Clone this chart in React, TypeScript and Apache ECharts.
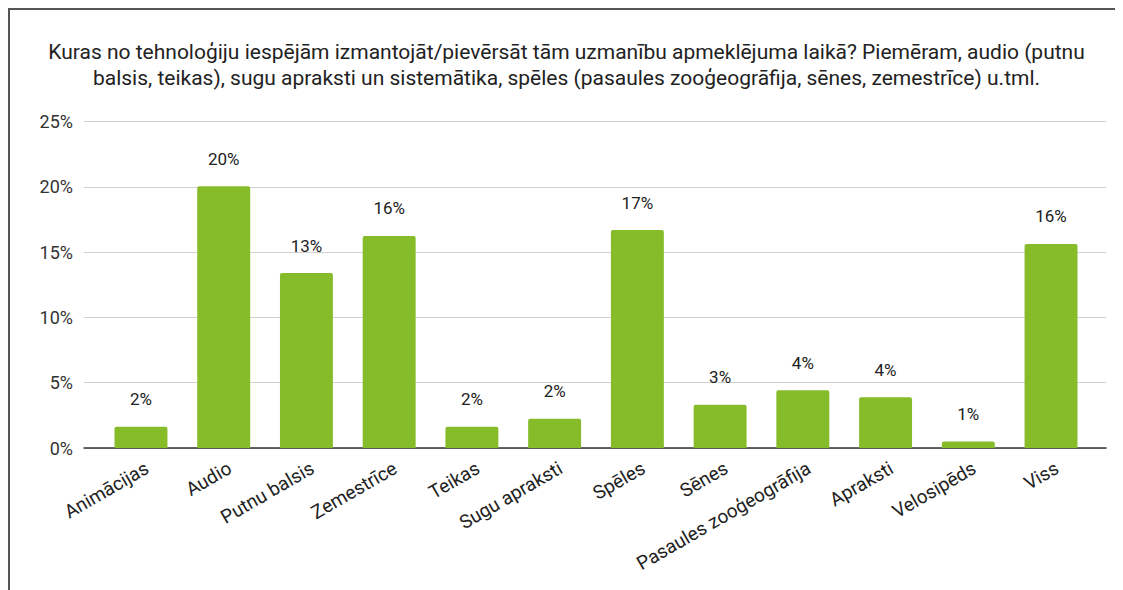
import React, { useEffect, useRef } from "react";
import * as echarts from "echarts";

const TITLE_LINES = [
  "Kuras no tehnoloģiju iespējām izmantojāt/pievērsāt tām uzmanību apmeklējuma laikā? Piemēram, audio (putnu",
  "balsis, teikas), sugu apraksti un sistemātika, spēles (pasaules zooģeogrāfija, sēnes, zemestrīce) u.tml.",
];

const categories = [
  "Animācijas",
  "Audio",
  "Putnu balsis",
  "Zemestrīce",
  "Teikas",
  "Sugu apraksti",
  "Spēles",
  "Sēnes",
  "Pasaules zooģeogrāfija",
  "Apraksti",
  "Velosipēds",
  "Viss",
];

const values = [1.63, 20.05, 13.4, 16.25, 1.63, 2.25, 16.7, 3.32, 4.42, 3.88, 0.5, 15.63];

const yTicks = [0, 5, 10, 15, 20, 25];

export default function App() {
  const ref = useRef<HTMLDivElement>(null);

  useEffect(() => {
    if (!ref.current) return;
    const chart = echarts.init(ref.current, null, { renderer: "svg" });
    const font = "Roboto";
    chart.setOption({
      animation: false,
      backgroundColor: "#fff",
      textStyle: { fontFamily: font },
      title: TITLE_LINES.map((t, i) => ({
        text: t,
        left: "center",
        top: 31.5 + i * 26,
        padding: 0,
        textStyle: {
          fontFamily: font,
          fontSize: 21,
          fontWeight: "normal",
          color: "#222",
        },
      })),
      grid: [
        { left: 74, right: 17, top: 111.7, bottom: 142, containLabel: false },
        { left: 89.6, right: 30.6, top: 111.7, bottom: 142, containLabel: false },
      ],
      xAxis: [
        {
          type: "value",
          gridIndex: 0,
          min: 0,
          max: 1,
          axisLine: { show: true, onZero: false, lineStyle: { color: "#333", width: 1.5 } },
          axisTick: { show: false },
          axisLabel: { show: false },
          splitLine: { show: false },
        },
        {
          type: "category",
          gridIndex: 1,
          data: categories,
          axisLine: { show: false },
          axisTick: { show: false },
          splitLine: { show: false },
          axisLabel: {
            interval: 0,
            rotate: 30,
            margin: 22,
            padding: [0, -7, 0, 0],
            fontFamily: font,
            fontSize: 19,
            color: "#222",
          },
        },
      ],
      yAxis: [
        {
          type: "value",
          gridIndex: 0,
          min: yTicks[0],
          max: yTicks[yTicks.length - 1],
          interval: 5,
          axisLine: { show: false },
          axisTick: { show: false },
          axisLabel: {
            formatter: (v: number) => `${v}%`,
            fontFamily: font,
            fontSize: 18,
            color: "#333",
            margin: 11,
          },
          splitLine: { show: true, lineStyle: { color: "#d0d0d0", width: 1 } },
        },
        {
          type: "value",
          gridIndex: 1,
          min: yTicks[0],
          max: yTicks[yTicks.length - 1],
          interval: 5,
          axisLine: { show: false },
          axisTick: { show: false },
          axisLabel: { show: false },
          splitLine: { show: false },
        },
      ],
      series: [
        {
          type: "bar",
          xAxisIndex: 1,
          yAxisIndex: 1,
          data: values,
          barCategoryGap: "36%",
          itemStyle: { color: "#86bb29", borderRadius: [2, 2, 0, 0] },
          label: {
            show: true,
            position: "top",
            distance: 19,
            formatter: (p: any) => `${Math.round(p.value)}%`,
            fontFamily: font,
            fontSize: 17,
            color: "#222",
          },
          z: 3,
        },
      ],
    });
    return () => chart.dispose();
  }, []);

  return (
    <div
      style={{
        width: 1113,
        height: 580,
        borderTop: "2px solid #555",
        borderLeft: "2px solid #555",
        background: "#fff",
      }}
    >
      <div ref={ref} style={{ width: 1113, height: 580 }} />
    </div>
  );
}
